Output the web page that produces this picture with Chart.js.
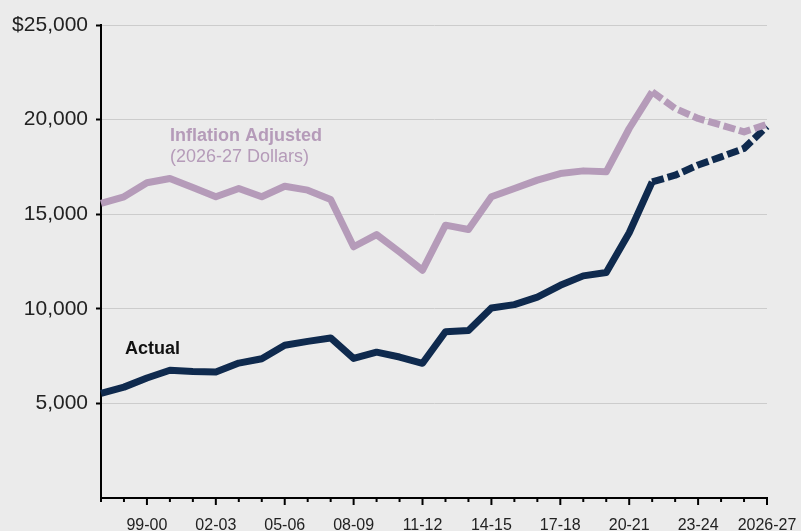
<!DOCTYPE html>
<html lang="en">
<head>
  <meta charset="UTF-8">
  <title>Actual vs inflation adjusted</title>
  <style>
    html, body {
      margin: 0;
      padding: 0;
      background: #ebebeb;
    }
    .chart-wrapper {
      position: relative;
      width: 801px;
      height: 531px;
    }
  </style>
</head>
<body>
  <div class="chart-wrapper">
    <canvas id="chart"></canvas>
  </div>

  <script src="https://cdn.jsdelivr.net/npm/chart.js@4.4.1/dist/chart.umd.min.js"></script>
  <script>
    const YEARS = [
      '97-98', '98-99', '99-00', '00-01', '01-02', '02-03', '03-04', '04-05', '05-06', '06-07',
      '07-08', '08-09', '09-10', '10-11', '11-12', '12-13', '13-14', '14-15', '15-16', '16-17',
      '17-18', '18-19', '19-20', '20-21', '21-22', '22-23', '23-24', '24-25', '25-26', '2026-27'
    ];
    const ACTUAL = [
      5530, 5860, 6340, 6750, 6690, 6660, 7130, 7360, 8070, 8280,
      8460, 7380, 7710, 7450, 7120, 8790, 8850, 10040, 10220, 10620,
      11240, 11740, 11920, 14020, 16710, 17060, 17600, 18030, 18480, 19640
    ];
    const INFLATION_ADJUSTED = [
      15570, 15920, 16660, 16890, 16410, 15920, 16360, 15920, 16480, 16270,
      15780, 13280, 13920, 13000, 12040, 14420, 14190, 15920, 16360, 16800,
      17150, 17290, 17240, 19530, 21470, 20590, 20060, 19710, 19350, 19750
    ];
    // projections start after this index
    const PROJECTED_FROM = 24;

    const NAVY = '#0f2a4e';
    const LILAC = '#b59bb9';
    const FONT = "'Liberation Sans', Arial, Helvetica, sans-serif";

    const dashed = ctx => ctx.p0DataIndex >= PROJECTED_FROM ? [12, 4] : undefined;

    const background = {
      id: 'background',
      beforeDraw(chart) {
        const c = chart.ctx;
        c.save();
        c.fillStyle = '#ebebeb';
        c.fillRect(0, 0, chart.width, chart.height);
        c.restore();
      }
    };

    // year ticks below the x axis, longer ones where there is a label
    const yearTicks = {
      id: 'yearTicks',
      afterDraw(chart) {
        const xs = chart.scales.x;
        const c = chart.ctx;
        c.save();
        c.strokeStyle = '#000';
        c.lineWidth = 2;
        YEARS.forEach((y, i) => {
          const x = xs.getPixelForValue(i);
          const len = i % 3 === 2 ? 7 : 4;
          c.beginPath();
          c.moveTo(x, xs.top);
          c.lineTo(x, xs.top + len);
          c.stroke();
        });
        c.restore();
      }
    };

    const notes = {
      id: 'notes',
      afterDatasetsDraw(chart) {
        const c = chart.ctx;
        c.save();
        c.textAlign = 'left';
        c.textBaseline = 'alphabetic';
        c.fillStyle = LILAC;
        c.font = `bold 18px ${FONT}`;
        c.fillText('Inflation Adjusted', 170, 141);
        c.font = `18px ${FONT}`;
        c.fillText('(2026-27 Dollars)', 170, 162);
        c.fillStyle = '#111';
        c.font = `bold 18px ${FONT}`;
        c.fillText('Actual', 125, 354);
        c.restore();
      }
    };

    new Chart(document.getElementById('chart'), {
      type: 'line',
      data: {
        labels: YEARS,
        datasets: [
          {
            label: 'Inflation Adjusted',
            data: INFLATION_ADJUSTED,
            borderColor: LILAC,
            borderWidth: 7,
            borderJoinStyle: 'round',
            pointRadius: 0,
            segment: { borderDash: dashed }
          },
          {
            label: 'Actual',
            data: ACTUAL,
            borderColor: NAVY,
            borderWidth: 7,
            borderJoinStyle: 'round',
            pointRadius: 0,
            segment: { borderDash: dashed }
          }
        ]
      },
      plugins: [background, yearTicks, notes],
      options: {
        responsive: true,
        maintainAspectRatio: false,
        animation: false,
        layout: {
          padding: { top: 25, right: 34, bottom: 0, left: 0 }
        },
        plugins: {
          legend: { display: false },
          tooltip: { enabled: false }
        },
        scales: {
          x: {
            offset: false,
            afterFit: s => {
              s.height = 33;
              s.paddingLeft = 0;
              s.paddingRight = 0;
            },
            border: { color: '#000', width: 2 },
            grid: { display: false, drawTicks: false },
            ticks: {
              autoSkip: false,
              maxRotation: 0,
              padding: 18,
              color: '#222',
              font: { family: FONT, size: 16 },
              callback: (v, i) => i % 3 === 2 ? YEARS[i] : ''
            }
          },
          y: {
            min: 0,
            max: 25000,
            afterFit: s => {
              s.width = 101;
              s.paddingTop = 0;
              s.paddingBottom = 0;
            },
            border: { color: '#000', width: 2 },
            grid: {
              color: ctx => ctx.tick && ctx.tick.value === 0 ? 'rgba(0,0,0,0)' : '#cccccc',
              lineWidth: 1,
              tickLength: 5,
              tickColor: ctx => ctx.tick && ctx.tick.value === 0 ? 'rgba(0,0,0,0)' : '#000',
              tickWidth: 2
            },
            ticks: {
              stepSize: 5000,
              padding: 8,
              color: '#222',
              font: { family: FONT, size: 21 },
              callback: v => v === 0 ? '' : (v === 25000 ? '$' : '') + v.toLocaleString('en-US')
            }
          }
        }
      }
    });
  </script>
</body>
</html>
